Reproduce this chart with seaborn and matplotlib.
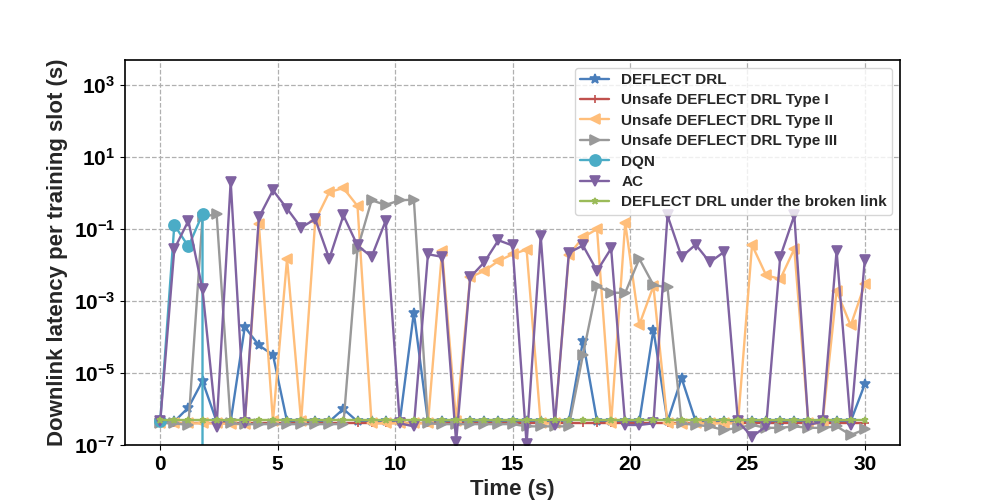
import numpy as np
import pandas as pd
import matplotlib
matplotlib.use("Agg")
import matplotlib.pyplot as plt
import matplotlib.ticker as mticker
import seaborn as sns

# ---------------- data ----------------
time_s = [round(0.6 * i, 1) for i in range(51)]

deflect_drl = [4.5e-7, 4.5e-7, 1.1e-6, 6.0e-6, 4.5e-7, 4.5e-7, 1.9e-4, 5.9e-5, 3.2e-5, 4.5e-7,
               4.5e-7, 4.5e-7, 4.5e-7, 1.0e-6, 4.5e-7, 4.5e-7, 4.5e-7, 4.5e-7, 4.8e-4, 4.5e-7,
               4.5e-7, 4.5e-7, 4.5e-7, 4.5e-7, 4.5e-7, 4.5e-7, 4.5e-7, 4.5e-7, 4.5e-7, 4.5e-7,
               7.8e-5, 4.5e-7, 4.5e-7, 4.5e-7, 4.5e-7, 1.6e-4, 4.5e-7, 7.2e-6, 4.5e-7, 4.5e-7,
               4.5e-7, 4.5e-7, 4.5e-7, 4.5e-7, 4.5e-7, 4.5e-7, 4.5e-7, 4.5e-7, 4.5e-7, 4.5e-7,
               4.9e-6]

unsafe_type1 = [4.0e-7, 4.0e-7, 4.0e-7, 4.0e-7, 4.0e-7, 4.0e-7, 4.0e-7, 4.0e-7, 4.0e-7, 4.0e-7,
                4.0e-7, 4.0e-7, 4.0e-7, 4.0e-7, 4.0e-7, 4.0e-7, 4.0e-7, 4.0e-7, 4.0e-7, 4.0e-7,
                4.0e-7, 4.0e-7, 4.0e-7, 4.0e-7, 4.0e-7, 4.0e-7, 4.0e-7, 4.0e-7, 4.0e-7, 4.0e-7,
                4.0e-7, 4.0e-7, 4.0e-7, 4.0e-7, 4.0e-7, 4.0e-7, 4.0e-7, 4.0e-7, 4.0e-7, 4.0e-7,
                4.0e-7, 4.0e-7, 4.0e-7, 4.0e-7, 4.0e-7, 4.0e-7, 4.0e-7, 4.0e-7, 4.0e-7, 4.0e-7,
                4.0e-7]

unsafe_type2 = [4.2e-7, 4.0e-7, 4.0e-7, 4.0e-7, 4.0e-7, 3.8e-7, 3.8e-7, 0.14, 4.5e-7, 0.015,
                4.5e-7, 0.17, 1.07, 1.38, 0.44, 4.0e-7, 4.0e-7, 4.0e-7, 4.0e-7, 4.0e-7,
                0.025, 4.5e-7, 0.0046, 0.0069, 0.013, 0.02, 0.027, 4.0e-7, 4.0e-7, 0.019,
                0.059, 0.1, 4.0e-7, 0.15, 2.2e-4, 0.0026, 4.0e-7, 3.8e-7, 4.0e-7, 4.0e-7,
                4.0e-7, 4.0e-7, 0.036, 0.0052, 0.0041, 0.028, 4.0e-7, 4.0e-7, 0.0019, 2.1e-4,
                0.0029]

unsafe_type3 = [4.2e-7, 4.0e-7, 3.6e-7, 0.21, 0.27, 4.0e-7, 3.8e-7, 3.8e-7, 3.8e-7, 3.8e-7,
                3.8e-7, 3.8e-7, 3.8e-7, 3.8e-7, 0.028, 0.63, 0.47, 0.63, 0.66, 4.0e-7,
                3.8e-7, 3.8e-7, 3.8e-7, 3.8e-7, 3.8e-7, 3.8e-7, 3.3e-7, 3.3e-7, 3.3e-7, 3.3e-7,
                3.2e-5, 0.0026, 0.0017, 0.0017, 0.015, 0.0028, 0.0024, 4.0e-7, 3.6e-7, 3.3e-7,
                2.6e-7, 3.0e-7, 3.6e-7, 3.0e-7, 3.0e-7, 3.3e-7, 3.0e-7, 3.0e-7, 3.3e-7, 1.9e-7,
                2.7e-7]

dqn_time = [0.0, 0.6, 1.2, 1.8, 1.8]
dqn = [4.5e-7, 0.13, 0.033, 0.26, 0.0]

ac = [4.5e-7, 0.028, 0.17, 0.0021, 3.2e-7, 2.1, 4.0e-7, 0.21, 1.2, 0.37,
      0.11, 0.19, 0.015, 0.24, 0.035, 0.017, 0.17, 4.0e-7, 3.3e-7, 0.02,
      0.017, 1.2e-7, 0.0046, 0.012, 0.049, 0.035, 1.05e-7, 0.066, 3.6e-7, 0.022,
      0.035, 0.0069, 0.029, 3.6e-7, 3.6e-7, 4.0e-7, 0.24, 0.017, 0.037, 0.012,
      0.023, 4.5e-7, 1.7e-7, 3.3e-7, 0.017, 0.24, 3.6e-7, 4.5e-7, 0.025, 3.6e-7,
      0.014]

broken_link = [4.8e-7, 4.8e-7, 4.8e-7, 4.8e-7, 4.8e-7, 4.8e-7, 4.8e-7, 4.8e-7, 4.8e-7, 4.8e-7,
               4.8e-7, 4.8e-7, 4.8e-7, 4.8e-7, 4.8e-7, 4.8e-7, 4.8e-7, 4.8e-7, 4.8e-7, 4.8e-7,
               4.8e-7, 4.8e-7, 4.8e-7, 4.8e-7, 4.8e-7, 4.8e-7, 4.8e-7, 4.8e-7, 4.8e-7, 4.8e-7,
               4.8e-7, 4.8e-7, 4.8e-7, 4.8e-7, 4.8e-7, 4.8e-7, 4.8e-7, 4.8e-7, 4.8e-7, 4.8e-7,
               4.8e-7, 4.8e-7, 4.8e-7, 4.8e-7, 4.8e-7, 4.8e-7, 4.8e-7, 4.8e-7, 4.8e-7, 4.8e-7,
               4.8e-7]

series_names = ["DEFLECT DRL", "Unsafe DEFLECT DRL Type I", "Unsafe DEFLECT DRL Type II",
                "Unsafe DEFLECT DRL Type III", "DQN", "AC", "DEFLECT DRL under the broken link"]

# ---------------- style ----------------
sns.set_style("ticks")
plt.rcParams["font.family"] = ["Liberation Sans", "DejaVu Sans"]
plt.rcParams["font.weight"] = "bold"
plt.rcParams["mathtext.fontset"] = "custom"
plt.rcParams["mathtext.rm"] = "Liberation Sans:bold"
plt.rcParams["mathtext.bf"] = "Liberation Sans:bold"
plt.rcParams["mathtext.it"] = "Liberation Sans:bold:italic"
plt.rcParams["mathtext.sf"] = "Liberation Sans:bold"
plt.rcParams["mathtext.default"] = "rm"
plt.rcParams["axes.unicode_minus"] = False

colors = ["#4a7ebb", "#c0504d", "#ffbe7a", "#999999", "#4bacc6", "#7f62a1", "#9bbb59"]
markers = ["*", "+", "<", ">", "o", "v", "*"]
msizes = [7, 6, 7, 7, 8, 7, 5]

frames = []
for name, xs, ys in [
    (series_names[0], time_s, deflect_drl),
    (series_names[1], time_s, unsafe_type1),
    (series_names[2], time_s, unsafe_type2),
    (series_names[3], time_s, unsafe_type3),
    (series_names[4], dqn_time, dqn),
    (series_names[5], time_s, ac),
    (series_names[6], time_s, broken_link),
]:
    frames.append(pd.DataFrame({"time": xs, "latency": ys, "method": name}))
df = pd.concat(frames, ignore_index=True)

fig, ax = plt.subplots(figsize=(10, 5), dpi=100)
for name, c, m, ms in zip(series_names, colors, markers, msizes):
    sub = df[df["method"] == name]
    sns.lineplot(data=sub, x="time", y="latency", ax=ax, color=c, marker=m,
                 markersize=ms, markeredgecolor=c, markeredgewidth=1.2, linewidth=1.7,
                 estimator=None, sort=False, label=name)

ax.set_yscale("log")
ax.set_xlim(-1.5, 31.5)
ax.set_ylim(1e-7, 5e3)
ax.yaxis.set_major_locator(mticker.FixedLocator([1e-7, 1e-5, 1e-3, 1e-1, 1e1, 1e3]))
ax.yaxis.set_minor_locator(mticker.NullLocator())
ax.set_xticks([0, 5, 10, 15, 20, 25, 30])
ax.grid(True, linestyle="--", color="#b0b0b0", linewidth=0.9)
for s in ax.spines.values():
    s.set_color("black")
    s.set_linewidth(1.2)

ax.tick_params(axis="both", labelsize=15, colors="black")
for lab in ax.get_xticklabels() + ax.get_yticklabels():
    lab.set_fontweight("bold")
ax.set_xlabel("Time (s)", fontsize=16, fontweight="bold")
ax.set_ylabel("Downlink latency per training slot (s)", fontsize=16, fontweight="bold")

leg = ax.legend(loc="upper right", prop={"weight": "bold", "size": 11}, frameon=True,
                labelspacing=0.42, handlelength=1.9, borderpad=0.35)

fig.subplots_adjust(left=0.125, right=0.9, bottom=0.11, top=0.88)
fig.savefig("out.png", dpi=100)
